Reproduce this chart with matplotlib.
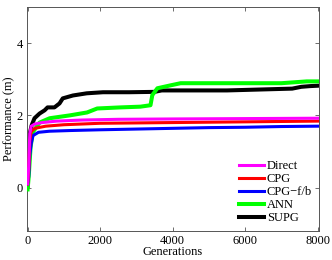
import matplotlib
matplotlib.use("Agg")
import matplotlib.pyplot as plt

# Best-so-far performance vs generations
direct_gen = [0, 30, 60, 100, 200, 400, 800, 1500, 2500, 4000, 6000, 8000]
direct_val = [0.1, 0.6, 1.5, 1.7, 1.76, 1.8, 1.84, 1.87, 1.89, 1.9, 1.91, 1.92]

cpg_gen = [0, 30, 60, 100, 200, 500, 1000, 2000, 3000, 4000, 5000, 6000, 7000, 8000]
cpg_val = [0.1, 0.5, 1.3, 1.55, 1.64, 1.7, 1.74, 1.78, 1.79, 1.8, 1.81, 1.82, 1.83, 1.84]

cpgfb_gen = [0, 30, 60, 100, 150, 300, 600, 1200, 2000, 3000, 4000, 5000, 6000, 7000, 8000]
cpgfb_val = [0.1, 0.3, 0.9, 1.22, 1.44, 1.53, 1.56, 1.58, 1.6, 1.62, 1.64, 1.66, 1.67, 1.69, 1.7]

ann_gen = [0, 30, 80, 140, 330, 610, 1170, 1640, 1920, 2560, 3110, 3390, 3440,
           3580, 3940, 4220, 5600, 7000, 7700, 8000]
ann_val = [-0.05, 0.3, 1.1, 1.53, 1.8, 1.92, 2.0, 2.08, 2.19, 2.22, 2.24, 2.28, 2.56,
           2.75, 2.83, 2.89, 2.89, 2.89, 2.94, 2.94]

supg_gen = [0, 30, 60, 110, 190, 330, 470, 550, 740, 880, 970, 1250, 1630, 2080,
            2800, 3500, 3700, 5500, 7300, 7550, 7800, 8000]
supg_val = [0.05, 0.8, 1.5, 1.72, 1.92, 2.05, 2.14, 2.22, 2.22, 2.33, 2.47, 2.55, 2.61, 2.64,
            2.64, 2.65, 2.69, 2.69, 2.74, 2.79, 2.81, 2.82]

x_ticks = [0, 2000, 4000, 6000, 8000]
y_ticks = [0, 2, 4]

plt.rcParams["font.family"] = ["Liberation Serif", "DejaVu Serif"]
plt.rcParams["font.size"] = 9

fig = plt.figure(figsize=(3.32, 2.6), dpi=100)
ax = fig.add_axes([0.081, 0.112, 0.88, 0.861])

lw = 2.2
l_supg, = ax.plot(supg_gen, supg_val, color="black", lw=lw + 0.7, label="SUPG", zorder=2)
l_ann, = ax.plot(ann_gen, ann_val, color="#00ff00", lw=lw + 0.7, label="ANN", zorder=3)
l_fb, = ax.plot(cpgfb_gen, cpgfb_val, color="#0000ff", lw=lw, label="CPG\u2212f/b", zorder=4)
l_cpg, = ax.plot(cpg_gen, cpg_val, color="#ff0000", lw=lw, label="CPG", zorder=5)
l_dir, = ax.plot(direct_gen, direct_val, color="#ff00ff", lw=lw, label="Direct", zorder=6)

ax.set_xlim(-20, 8040)
ax.set_ylim(-1.2, 5)
ax.set_xticks(x_ticks)
ax.set_yticks(y_ticks)
ax.tick_params(direction="in", top=True, right=True, length=3, width=0.6,
               color="#555555", labelsize=9, pad=3)
for sp in ax.spines.values():
    sp.set_color("#555555")
    sp.set_linewidth(0.7)

ax.set_xlabel("Generations", fontsize=9, labelpad=-1)
ax.set_ylabel("Performance (m)", fontsize=9, labelpad=1)

ax.legend(handles=[l_dir, l_cpg, l_fb, l_ann, l_supg], loc="lower right",
          frameon=False, fontsize=9, handlelength=2.0, handletextpad=0.2,
          labelspacing=0.08, borderaxespad=0.15)

fig.savefig("out.png", dpi=100)
